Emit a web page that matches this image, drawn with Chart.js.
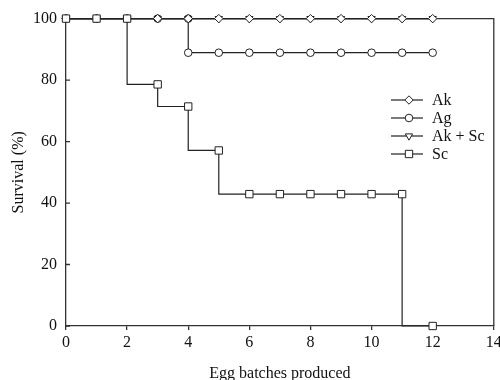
<!DOCTYPE html>
<html>
<head>
<meta charset="utf-8">
<script src="https://cdn.jsdelivr.net/npm/chart.js@4/dist/chart.umd.min.js"></script>
<style>
html, body { margin: 0; padding: 0; background: #fff; }
</style>
</head>
<body>
<canvas id="surv" width="500" height="380"></canvas>
<script>
// data
const batches = [0, 1, 2, 3, 4, 5, 6, 7, 8, 9, 10, 11, 12];
const akSurvival = [100, 100, 100, 100, 100, 100, 100, 100, 100, 100, 100, 100, 100];
const akScSurvival = [100, 100, 100, 100, 100, 100, 100, 100, 100, 100, 100, 100, 100];
const agBatches = [0, 1, 2, 3, 4, 4, 5, 6, 7, 8, 9, 10, 11, 12];
const agSurvival = [100, 100, 100, 100, 100, 88.9, 88.9, 88.9, 88.9, 88.9, 88.9, 88.9, 88.9, 88.9];
const scSurvival = [100, 100, 100, 78.6, 71.4, 57.1, 42.9, 42.9, 42.9, 42.9, 42.9, 42.9, 0];
const seriesNames = ['Ak', 'Ag', 'Ak + Sc', 'Sc'];
const yTicks = [0, 20, 40, 60, 80, 100];

const ink = '#222';
Chart.defaults.font.family = "'Liberation Serif', 'DejaVu Serif', serif";
Chart.defaults.font.size = 16;
Chart.defaults.color = '#111';

function pts(xs, ys) {
    return xs.map((x, i) => ({ x: x, y: ys[i] }));
}

function series(label, xs, ys, style, radius, rotation, order) {
    return {
        label: label,
        data: pts(xs, ys),
        stepped: 'after',
        borderColor: ink,
        borderWidth: 1.2,
        pointStyle: style,
        pointRadius: radius,
        pointRotation: rotation,
        pointBackgroundColor: '#fff',
        pointBorderColor: ink,
        pointBorderWidth: 1,
        fill: false,
        clip: false,
        order: order
    };
}

const datasets = [
    series(seriesNames[0], batches, akSurvival, 'rectRot', 4.2, 0, 1),
    series(seriesNames[1], agBatches, agSurvival, 'circle', 3.8, 0, 3),
    series(seriesNames[2], batches, akScSurvival, 'triangle', 4.2, 180, 2),
    series(seriesNames[3], batches, scSurvival, 'rect', 5.2, 0, 0)
];

// box on top/right + inward ticks on the y axis
const frame = {
    id: 'frame',
    beforeDatasetsDraw(chart) {
        const a = chart.chartArea, ctx = chart.ctx;
        const ys = chart.scales.y;
        ctx.save();
        ctx.strokeStyle = '#333';
        ctx.lineWidth = 1.3;
        ctx.beginPath();
        ctx.moveTo(a.left, a.top);
        ctx.lineTo(a.right, a.top);
        ctx.lineTo(a.right, a.bottom);
        yTicks.forEach(v => {
            const py = ys.getPixelForValue(v);
            ctx.moveTo(a.left, py);
            ctx.lineTo(a.left + 4, py);
        });
        ctx.stroke();
        ctx.restore();
    }
};

// legend drawn inside the plot
const boxLegend = {
    id: 'boxLegend',
    afterDatasetsDraw(chart) {
        const ctx = chart.ctx;
        ctx.save();
        chart.data.datasets.forEach((ds, i) => {
            const y = 100 + i * 18;
            ctx.strokeStyle = ink;
            ctx.lineWidth = 1.2;
            ctx.beginPath();
            ctx.moveTo(391, y);
            ctx.lineTo(423, y);
            ctx.stroke();
            ctx.fillStyle = '#fff';
            ctx.lineWidth = 1;
            Chart.helpers.drawPoint(ctx, {
                pointStyle: ds.pointStyle,
                radius: ds.pointRadius,
                rotation: ds.pointRotation,
                borderWidth: 1
            }, 409, y);
            ctx.fillStyle = '#111';
            ctx.textBaseline = 'middle';
            ctx.textAlign = 'left';
            ctx.font = "16px 'Liberation Serif'";
            ctx.fillText(ds.label, 432, y + 1);
        });
        ctx.restore();
    }
};

new Chart(document.getElementById('surv'), {
    type: 'line',
    data: { datasets: datasets },
    options: {
        responsive: false,
        animation: false,
        layout: { padding: { top: 17, right: 6, left: 0, bottom: 0 } },
        plugins: {
            legend: { display: false },
            tooltip: { enabled: false }
        },
        scales: {
            x: {
                type: 'linear',
                min: 0,
                max: 14,
                ticks: { stepSize: 2, padding: 3 },
                grid: { drawOnChartArea: false, drawTicks: true, tickLength: 4, color: '#333', lineWidth: 1.3 },
                border: { color: '#333', width: 1.3 },
                title: { display: true, text: 'Egg batches produced', padding: { top: 0, bottom: -3 } },
                afterFit(s) { s.height = 54; s.paddingRight = 6; s.paddingLeft = 0; }
            },
            y: {
                min: 0,
                max: 100,
                ticks: { stepSize: 20, padding: 9 },
                grid: { drawOnChartArea: false, drawTicks: false },
                border: { color: '#333', width: 1.3 },
                title: { display: true, text: 'Survival (%)', padding: { top: 9, bottom: 0 } },
                afterFit(s) { s.width = 66; }
            }
        }
    },
    plugins: [frame, boxLegend]
});
</script>
</body>
</html>
